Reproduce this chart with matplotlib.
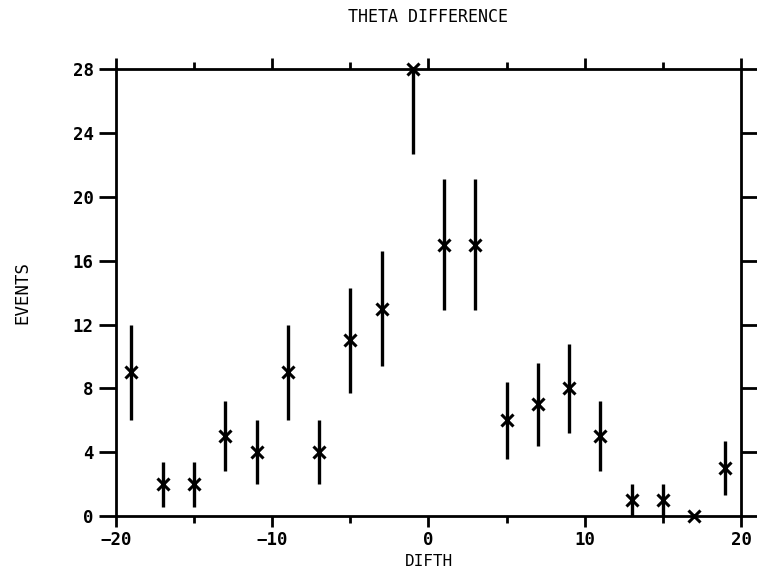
import numpy as np
import matplotlib
matplotlib.use('Agg')
from matplotlib import pyplot as plt
from matplotlib.ticker import MultipleLocator

# bin centres and counts
difth = [-19, -17, -15, -13, -11, -9, -7, -5, -3, -1, 1, 3, 5, 7, 9, 11, 13, 15, 17, 19]
events = [9, 2, 2, 5, 4, 9, 4, 11, 13, 28, 17, 17, 6, 7, 8, 5, 1, 1, 0, 3]
errors = [3.0, 1.4, 1.4, 2.2, 2.0, 3.0, 2.0, 3.3, 3.6, 5.3, 4.1, 4.1, 2.4, 2.6, 2.8, 2.2, 1.0, 1.0, 0.0, 1.7]
xticks = [-20, -10, 0, 10, 20]
yticks = [0, 4, 8, 12, 16, 20, 24, 28]

plt.rcParams['font.family'] = ['DejaVu Sans Mono']
plt.rcParams['font.weight'] = 'bold'

fig = plt.figure(figsize=(7.57, 5.76), dpi=100)
ax = fig.add_axes([0.153, 0.104, 0.826, 0.776])

# error bars clipped to the frame, markers drawn on top unclipped
ax.errorbar(difth, events, yerr=errors, fmt='none', ecolor='black',
            elinewidth=2.4, capsize=0)
ax.plot(difth, events, 'x', color='black', ms=9, mew=2.2, clip_on=False, zorder=5)

ax.set_xlim(-20, 20)
ax.set_ylim(0, 28)
ax.set_xticks(xticks)
ax.set_yticks(yticks)
ax.xaxis.set_minor_locator(MultipleLocator(5))

for s in ax.spines.values():
    s.set_linewidth(2)

ax.tick_params(axis='both', which='both', direction='out', width=2, labelsize=12.5)
ax.tick_params(axis='x', which='major', length=8, top=True, pad=3)
ax.tick_params(axis='x', which='minor', length=5, top=True)
ax.tick_params(axis='y', which='major', length=12, right=True, pad=4)

ax.set_title('THETA DIFFERENCE', fontsize=12, pad=34)
ax.set_xlabel('DIFTH', fontsize=11.5, labelpad=3)
ax.set_ylabel('EVENTS', fontsize=12.5, labelpad=30)

fig.savefig('out.png', dpi=100)
